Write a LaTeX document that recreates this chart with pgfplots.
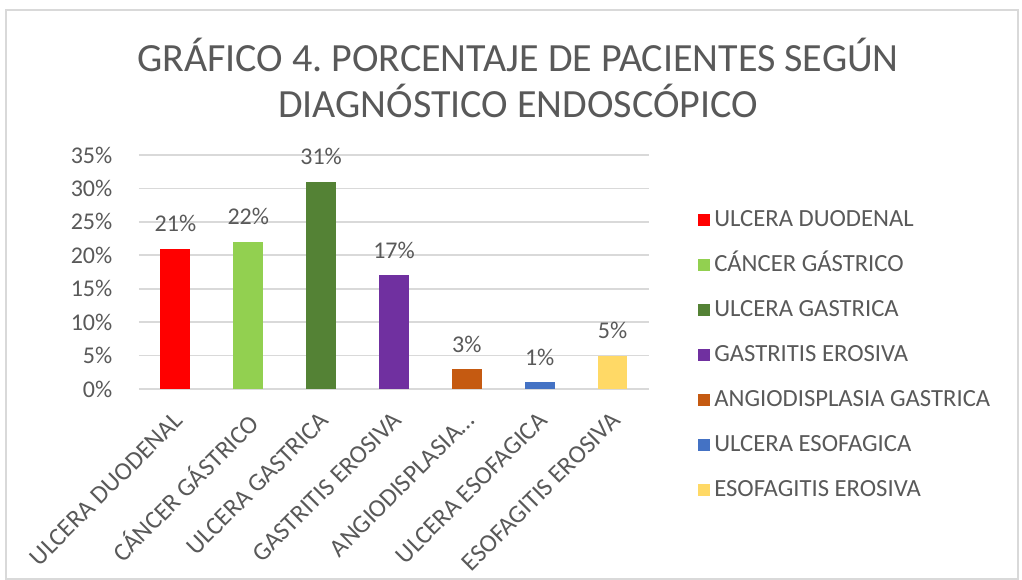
\documentclass[border=0pt]{standalone}
\usepackage{pgfplots}
\pgfplotsset{compat=1.18}
\usepackage{fontspec}
\setmainfont{Carlito}
\frenchspacing

\definecolor{txt}{HTML}{595959}
\definecolor{gridc}{HTML}{D9D9D9}
\definecolor{c1}{HTML}{FF0000}
\definecolor{c2}{HTML}{92D050}
\definecolor{c3}{HTML}{548235}
\definecolor{c4}{HTML}{7030A0}
\definecolor{c5}{HTML}{C55A11}
\definecolor{c6}{HTML}{4472C4}
\definecolor{c7}{HTML}{FFD966}

\begin{document}
\begin{tikzpicture}[x=0.75pt,y=0.75pt]
% page = 1022 x 580 px, 1 px = 0.75pt
\useasboundingbox (0,0) rectangle (1022,580);
\draw[gridc, line width=1.5pt] (6,1) rectangle (1018,570);

\node[txt, font=\fontsize{30}{34}\selectfont, align=center] at (518,502)
  {GRÁFICO 4. PORCENTAJE DE PACIENTES SEGÚN\\DIAGNÓSTICO ENDOSCÓPICO};

\begin{axis}[
    at={(104.25pt,143.25pt)}, anchor=south west,
    scale only axis,
    width=382.5pt, height=175.5pt,
    ybar, bar width=0.41, bar shift=0pt,
    xmin=-0.5, xmax=6.5,
    ymin=0, ymax=35,
    xtick={0,1,2,3,4,5,6},
    xticklabels={ULCERA DUODENAL, CÁNCER GÁSTRICO, ULCERA GASTRICA,
      GASTRITIS EROSIVA, {ANGIODISPLASIA\ldots}, ULCERA ESOFAGICA, ESOFAGITIS EROSIVA},
    xticklabel style={rotate=45, anchor=north east, font=\fontsize{19}{21}\selectfont,
      text=txt, xshift=-9.3pt, yshift=-6.5pt},
    ytick={0,5,10,15,20,25,30,35},
    yticklabel={\pgfmathprintnumber{\tick}\%},
    yticklabel style={font=\fontsize{18}{20}\selectfont, text=txt, xshift=-16.5pt},
    /pgf/number format/assume math mode=true,
    axis x line*=bottom,
    axis y line*=left,
    x axis line style={gridc, line width=1.2pt, -},
    y axis line style={draw=none},
    ymajorgrids,
    grid style={gridc, line width=1.2pt},
    major tick length=0pt,
    tick style={draw=none},
    nodes near coords={\pgfmathprintnumber{\pgfplotspointmeta}\%},
    nodes near coords style={font=\fontsize{18}{20}\selectfont, text=txt, yshift=9pt},
    legend style={at={(1.087,0.79)}, anchor=north west, draw=none, fill=none,
      font=\fontsize{18.5}{20}\selectfont, text=txt,
      nodes={text height=13pt, text depth=4pt, inner sep=1.5pt},
      row sep=13.75pt},
    legend cell align=left,
    legend image code/.code={\fill[#1] (0pt,-4.5pt) rectangle (9pt,4.5pt); \path (11pt,0pt);},
  ]
  \addplot[fill=c1, draw=none] coordinates {(0,21)};
  \addplot[fill=c2, draw=none] coordinates {(1,22)};
  \addplot[fill=c3, draw=none] coordinates {(2,31)};
  \addplot[fill=c4, draw=none] coordinates {(3,17)};
  \addplot[fill=c5, draw=none] coordinates {(4,3)};
  \addplot[fill=c6, draw=none] coordinates {(5,1)};
  \addplot[fill=c7, draw=none] coordinates {(6,5)};
  \legend{ULCERA DUODENAL, CÁNCER GÁSTRICO, ULCERA GASTRICA, GASTRITIS EROSIVA,
    ANGIODISPLASIA GASTRICA, ULCERA ESOFAGICA, ESOFAGITIS EROSIVA}
\end{axis}
\end{tikzpicture}
\end{document}
